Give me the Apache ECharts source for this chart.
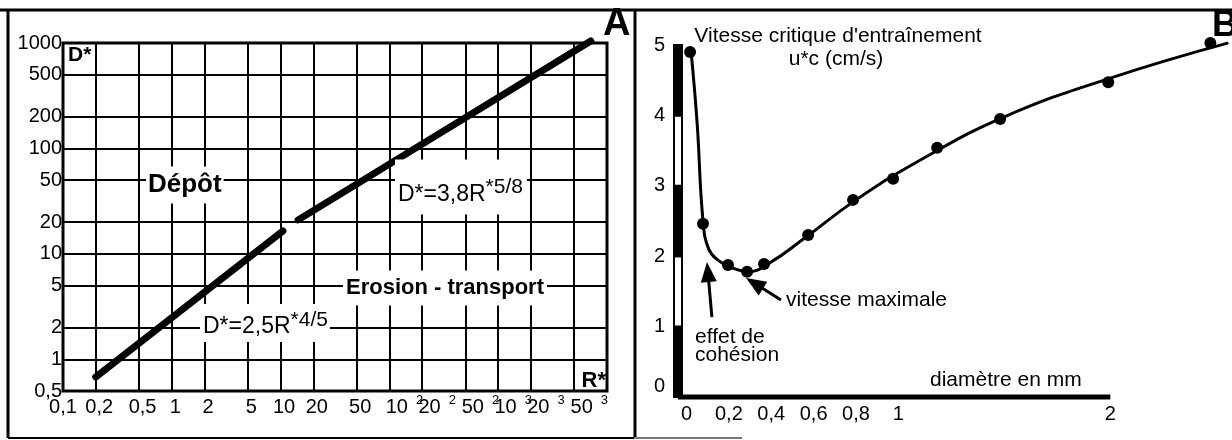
<!DOCTYPE html>
<html>
<head>
<meta charset="utf-8">
<script src="https://cdn.jsdelivr.net/npm/echarts@6/dist/echarts.min.js"></script>
<style>
  html, body { margin: 0; padding: 0; background: #fff; }
  #chart { width: 1232px; height: 440px; }
</style>
</head>
<body>
<div id="chart"></div>
<script>
// ---- Panel A: seuils D* / R* (log-log) ----
const rTicks = [0.1, 0.2, 0.5, 1, 2, 5, 10, 20, 50, 100, 200, 500, 1000, 2000, 5000, 10000];
const rTickLabels = ['0,1', '0,2', '0,5', '1', '2', '5', '10', '20', '50', '10^2', '20^2', '50^2', '10^3', '20^3', '50^3', ''];
const dTicks = [0.5, 1, 2, 5, 10, 20, 50, 100, 200, 500, 1000];
const dTickLabels = ['0,5', '1', '2', '5', '10', '20', '50', '100', '200', '500', '1000'];

// D* = 2,5 R*^(4/5)  (end points of the straight segment)
const lowLawR = [0.2, 10.5];
const lowLawD = [0.68, 16.5];
// D* = 3,8 R*^(5/8)
const highLawR = [14.5, 7100];
const highLawD = [21, 1045];

// ---- Panel B: vitesse critique d'entraînement ----
const diamTicks = [0, 0.2, 0.4, 0.6, 0.8, 1, 2];
const diamTickLabels = ['0', '0,2', '0,4', '0,6', '0,8', '1', '2'];
const speedTicks = [0, 1, 2, 3, 4, 5];

// measured points (diameter mm, u*c cm/s)
const measDiam  = [0.017, 0.078, 0.196, 0.286, 0.366, 0.574, 0.786, 0.975, 1.183, 1.480, 1.990, 2.472];
const measSpeed = [4.90, 2.46, 1.875, 1.78, 1.89, 2.30, 2.80, 3.10, 3.54, 3.95, 4.47, 5.03];

// fitted curve
const curveDiam  = [0.021, 0.050, 0.078, 0.105, 0.150, 0.210, 0.290, 0.400, 0.550, 0.800, 1.100, 1.500, 2.000, 2.557];
const curveSpeed = [4.93, 3.90, 2.50, 2.10, 1.94, 1.84, 1.78, 1.92, 2.24, 2.80, 3.36, 3.98, 4.53, 5.03];

// alternating scale bar along the speed axis
const scaleBarBreaks = [0, 1, 2, 3, 4, 5];

const DIAM_MIN = -0.04;
const DIAM_MAX = 2.56;
const FONT = "'Liberation Sans', Arial, Helvetica, sans-serif";
const lg = Math.log10;

function pickIndex(ticks, v, tf) {
  for (let i = 0; i < ticks.length; i++) {
    if (Math.abs(tf(ticks[i]) - v) < 1e-6) return i;
  }
  return -1;
}
function pick(ticks, labels, v, tf) {
  const i = pickIndex(ticks, v, tf);
  return i < 0 ? '' : labels[i];
}

const lowLawData = lowLawR.map((r, i) => [lg(r), lg(lowLawD[i])]);
const highLawData = highLawR.map((r, i) => [lg(r), lg(highLawD[i])]);
const measData = measDiam.map((d, i) => [d, measSpeed[i]]);
const curveData = curveDiam.map((d, i) => [d, curveSpeed[i]]);
const barData = scaleBarBreaks.slice(0, -1).map((b, i) => [b, scaleBarBreaks[i + 1], i % 2]);
const baseLineData = [[DIAM_MIN, speedTicks[0]], [diamTicks[diamTicks.length - 1], speedTicks[0]]];

const chart = echarts.init(document.getElementById('chart'), null, { renderer: 'canvas' });

function txt(x, y, text, size, opts) {
  return {
    type: 'text', x: x, y: y, z: 100,
    style: Object.assign({
      text: text, fill: '#000',
      font: (opts && opts.bold ? 'bold ' : '') + size + 'px ' + FONT,
      align: 'left', verticalAlign: 'middle'
    }, (opts && opts.style) || {})
  };
}

function frameLine(x1, y1, x2, y2, w, color) {
  return { type: 'line', z: 100, shape: { x1, y1, x2, y2 }, style: { stroke: color || '#000', lineWidth: w } };
}

function formula(x, y, base, sup, pad) {
  return {
    type: 'text', x: x, y: y, z: 100,
    style: {
      text: '{f|' + base + '}{e|' + sup + '}', align: 'left', verticalAlign: 'middle',
      backgroundColor: '#fff', padding: pad,
      rich: {
        f: { fontSize: 23, lineHeight: 30, fontFamily: FONT, fill: '#000' },
        e: { fontSize: 21, lineHeight: 16, fontFamily: FONT, fill: '#000', padding: [0, 0, 14, 0] }
      }
    }
  };
}

const labelCommon = {
  showMinLabel: true, showMaxLabel: true, hideOverlap: false, interval: 0,
  color: '#000', fontFamily: FONT, fontSize: 20
};

const option = {
  animation: false,
  backgroundColor: '#fff',
  textStyle: { fontFamily: FONT, color: '#000' },
  grid: [
    { left: 63, right: 625, top: 43, bottom: 49, show: true, borderColor: '#000', borderWidth: 3, outerBoundsMode: 'none' },
    { left: 678, right: 1232 - 678 - Math.round((DIAM_MAX - DIAM_MIN) * 211.8), top: 45, bottom: 43, outerBoundsMode: 'none' }
  ],
  xAxis: [
    {
      gridIndex: 0, type: 'value',
      min: lg(rTicks[0]), max: lg(rTicks[rTicks.length - 1]),
      axisLine: { show: false, onZero: false },
      axisTick: { show: false, customValues: rTicks.map(lg) },
      splitLine: { show: true, lineStyle: { color: '#000', width: 2 } },
      axisLabel: Object.assign({}, labelCommon, {
        customValues: rTicks.map(lg), margin: 2,
        formatter: v => {
          const i = pickIndex(rTicks, v, lg);
          const s = i < 0 ? '' : rTickLabels[i];
          if (!s) return '';
          if (s.indexOf('^') >= 0) {
            const p = s.split('^');
            return '{b|' + p[0] + '}{s|' + p[1] + '}';
          }
          return (i === 0 ? '{p0|' : '{p|') + s + '}';
        },
        rich: {
          p0: { fontSize: 20, lineHeight: 28, color: '#000', fontFamily: FONT },
          p: { fontSize: 20, lineHeight: 28, color: '#000', fontFamily: FONT, padding: [0, 0, 0, 7] },
          b: { fontSize: 20, lineHeight: 28, color: '#000', fontFamily: FONT, padding: [0, 0, 0, 30] },
          s: { fontSize: 13, lineHeight: 14, color: '#000', fontFamily: FONT, padding: [0, 0, 14, 8] }
        }
      })
    },
    {
      gridIndex: 1, type: 'value', min: DIAM_MIN, max: DIAM_MAX,
      axisLine: { show: false, onZero: false },
      axisTick: { show: false, customValues: diamTicks },
      splitLine: { show: false },
      axisLabel: Object.assign({}, labelCommon, {
        customValues: diamTicks, margin: 7,
        formatter: v => pick(diamTicks, diamTickLabels, v, x => x)
      })
    }
  ],
  yAxis: [
    {
      gridIndex: 0, type: 'value',
      min: lg(dTicks[0]), max: lg(dTicks[dTicks.length - 1]),
      axisLine: { show: false, onZero: false },
      axisTick: { show: false, customValues: dTicks.map(lg) },
      splitLine: { show: true, lineStyle: { color: '#000', width: 2 } },
      axisLabel: Object.assign({}, labelCommon, {
        customValues: dTicks.map(lg), margin: 1,
        formatter: v => pick(dTicks, dTickLabels, v, lg)
      })
    },
    {
      gridIndex: 1, type: 'value', min: speedTicks[0], max: speedTicks[speedTicks.length - 1],
      axisLine: { show: false, onZero: false },
      axisTick: { show: false, customValues: speedTicks },
      splitLine: { show: false },
      axisLabel: Object.assign({}, labelCommon, {
        customValues: speedTicks, margin: 13,
        formatter: v => v === 0 ? '{z|0}' : String(v),
        rich: { z: { fontSize: 20, color: '#000', fontFamily: FONT, padding: [0, 0, 22, 0] } }
      })
    }
  ],
  series: [
    {
      type: 'line', xAxisIndex: 0, yAxisIndex: 0, data: lowLawData,
      showSymbol: false, clip: false, z: 5,
      lineStyle: { color: '#000', width: 7, cap: 'round' }
    },
    {
      type: 'line', xAxisIndex: 0, yAxisIndex: 0, data: highLawData,
      showSymbol: false, clip: false, z: 5,
      lineStyle: { color: '#000', width: 7, cap: 'round' }
    },
    {
      // diameter axis baseline, drawn up to the last graduation
      type: 'line', xAxisIndex: 1, yAxisIndex: 1, data: baseLineData,
      showSymbol: false, clip: false, z: 4, silent: true,
      lineStyle: { color: '#000', width: 5 }
    },
    {
      type: 'line', xAxisIndex: 1, yAxisIndex: 1, data: curveData,
      showSymbol: false, clip: false, smooth: 0.45, z: 5,
      lineStyle: { color: '#000', width: 3 }
    },
    {
      type: 'scatter', xAxisIndex: 1, yAxisIndex: 1, data: measData,
      symbol: 'circle', symbolSize: 12, clip: false, z: 6,
      itemStyle: { color: '#000', opacity: 1 },
      markLine: {
        silent: true, animation: false,
        symbol: ['none', 'triangle'], symbolSize: [16, 20],
        label: { show: false },
        lineStyle: { color: '#000', width: 3, type: 'solid', opacity: 1 },
        data: [
          [{ coord: [0.446, 1.378] }, { coord: [0.321, 1.615] }],
          [{ coord: [0.120, 1.136] }, { coord: [0.101, 1.776] }]
        ]
      }
    },
    {
      type: 'custom', xAxisIndex: 1, yAxisIndex: 1, data: barData, clip: false, z: 7,
      renderItem: (params, api) => {
        const pLow = api.coord([DIAM_MIN, api.value(0)]);
        const pHigh = api.coord([DIAM_MIN, api.value(1)]);
        const white = api.value(2) === 1;
        return {
          type: 'rect',
          shape: { x: pLow[0] - 4, y: pHigh[1], width: 8, height: pLow[1] - pHigh[1] },
          style: { fill: white ? '#fff' : '#000', stroke: '#000', lineWidth: 2 }
        };
      }
    }
  ],
  graphic: [
    // outer frame
    frameLine(0, 10, 1232, 10, 3),
    frameLine(8, 10, 8, 438, 3),
    frameLine(635, 10, 635, 438, 3),
    frameLine(8, 438, 634, 438, 2),
    frameLine(634, 438, 742, 438, 2, '#777'),

    // panel A texts
    txt(603, 25, 'A', 38, { bold: true }),
    txt(68, 55, 'D*', 21, { bold: true }),
    txt(606, 381, 'R*', 22, { bold: true, style: { align: 'right' } }),
    txt(146, 185, 'Dépôt', 26, { bold: true, style: { backgroundColor: '#fff', padding: [6, 2, 3, 2], lineHeight: 28 } }),
    txt(343, 288, 'Erosion - transport', 22, { bold: true, style: { backgroundColor: '#fff', padding: [5, 3, 4, 3], lineHeight: 26 } }),
    formula(200, 323, 'D*=2,5R', '*4/5', [8, 2, 0, 3]),
    formula(395, 187, 'D*=3,8R', '*5/8', [20, 4, 5, 3]),

    // panel B texts
    txt(1212, 26, 'B', 36, { bold: true }),
    txt(838, 36, "Vitesse critique d'entraînement", 21, { style: { align: 'center' } }),
    txt(836, 59, 'u*c (cm/s)', 21, { style: { align: 'center' } }),
    txt(786, 300, 'vitesse maximale', 21),
    txt(695, 337, 'effet de', 21),
    txt(695, 355, 'cohésion', 21),
    txt(930, 380, 'diamètre en mm', 21)
  ]
};

chart.setOption(option);
</script>
</body>
</html>
